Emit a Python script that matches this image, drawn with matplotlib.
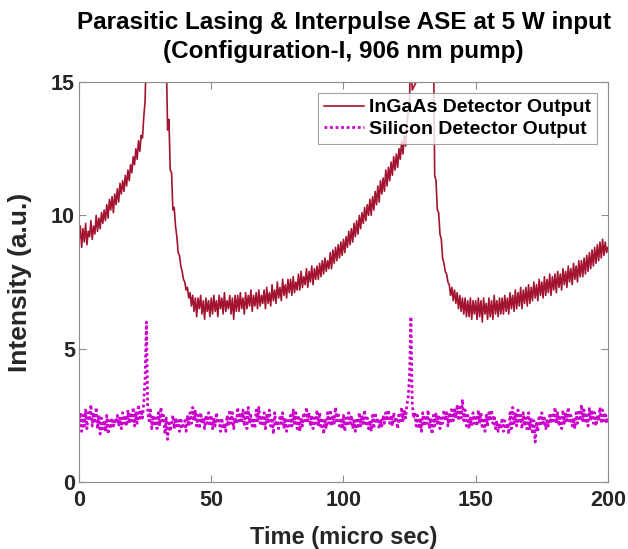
import numpy as np
import matplotlib.pyplot as plt

ingaas = [
    9.0, 9.6, 8.8, 9.5, 9.0, 9.7, 8.9, 9.4, 9.2, 9.8, 9.1, 9.6, 9.3, 10.0, 9.4, 9.9, 9.5, 10.1, 9.7, 10.2,
    9.8, 10.4, 9.9, 10.6, 10.2, 10.7, 10.1, 10.8, 10.4, 11.0, 10.5, 11.2, 10.8, 11.3, 10.9, 11.5, 11.1, 11.7, 11.3, 11.9,
    11.6, 12.2, 11.9, 12.5, 12.1, 12.8, 12.4, 13.0, 12.9, 13.7, 14.3, 16.5, 19.0, 21.0, 22.0, 22.5, 23.0, 23.0, 22.8, 22.5,
    22.0, 21.5, 21.0, 20.0, 19.0, 17.5, 16.0, 13.2, 13.6, 11.7, 11.6, 10.2, 10.3, 9.6, 9.2, 8.6, 8.5, 8.1, 7.9, 7.6,
    7.5, 7.2, 7.3, 6.9, 7.1, 6.6, 7.0, 6.4, 6.9, 6.2, 6.9, 6.5, 7.0, 6.3, 6.8, 6.1, 6.9, 6.4, 6.8, 6.2,
    6.9, 6.3, 7.0, 6.4, 6.8, 6.2, 7.0, 6.5, 6.9, 6.3, 7.1, 6.4, 6.8, 6.5, 7.0, 6.3, 6.9, 6.1, 7.0, 6.4,
    7.0, 6.4, 7.1, 6.5, 6.9, 6.3, 7.1, 6.5, 7.0, 6.6, 7.2, 6.4, 7.0, 6.6, 7.1, 6.5, 7.2, 6.6, 7.0, 6.7,
    7.2, 6.5, 7.3, 6.7, 7.1, 6.6, 7.4, 6.8, 7.2, 6.7, 7.5, 6.9, 7.3, 6.8, 7.6, 7.0, 7.4, 6.9, 7.6, 7.1,
    7.6, 7.0, 7.7, 7.1, 7.5, 7.2, 7.8, 7.2, 7.9, 7.3, 7.7, 7.4, 8.0, 7.3, 7.9, 7.5, 8.1, 7.4, 8.0, 7.6,
    8.1, 7.6, 8.2, 7.7, 8.3, 7.8, 8.4, 7.9, 8.3, 8.0, 8.6, 8.0, 8.7, 8.2, 8.8, 8.3, 8.9, 8.4, 9.0, 8.5,
    9.1, 8.6, 9.2, 8.8, 9.4, 8.9, 9.5, 9.0, 9.7, 9.2, 9.8, 9.3, 10.0, 9.5, 10.1, 9.7, 10.3, 9.8, 10.4, 10.0,
    10.6, 10.0, 10.7, 10.2, 10.9, 10.4, 11.1, 10.5, 11.3, 10.8, 11.4, 10.9, 11.7, 11.1, 11.8, 11.3, 12.0, 11.5, 12.2, 11.7,
    12.3, 11.8, 12.5, 12.1, 12.8, 12.3, 13.0, 12.6, 13.4, 13.9, 14.3, 17.0, 14.7, 14.8, 14.9, 15.0, 15.1, 18.0, 21.0, 22.5,
    23.0, 23.0, 22.5, 22.0, 21.0, 20.0, 19.0, 18.0, 17.0, 11.5, 11.3, 10.2, 10.1, 9.3, 9.1, 8.4, 8.2, 7.9, 7.8, 7.5,
    7.4, 7.0, 7.3, 6.8, 7.2, 6.7, 7.1, 6.5, 7.0, 6.4, 6.9, 6.3, 6.9, 6.2, 6.8, 6.2, 6.9, 6.1, 6.8, 6.3,
    6.8, 6.1, 6.9, 6.2, 6.8, 6.0, 6.9, 6.3, 6.7, 6.1, 6.9, 6.2, 6.8, 6.1, 7.0, 6.3, 6.8, 6.2, 6.9, 6.3,
    6.9, 6.3, 7.0, 6.4, 6.9, 6.3, 7.1, 6.5, 7.0, 6.4, 7.2, 6.5, 7.1, 6.6, 7.3, 6.5, 7.2, 6.7, 7.3, 6.6,
    7.4, 6.7, 7.3, 6.8, 7.5, 6.9, 7.4, 6.8, 7.6, 7.0, 7.5, 6.9, 7.7, 7.0, 7.6, 7.1, 7.8, 7.0, 7.7, 7.2,
    7.8, 7.1, 7.9, 7.3, 7.8, 7.2, 8.0, 7.4, 7.9, 7.3, 8.1, 7.5, 8.0, 7.4, 8.2, 7.6, 8.1, 7.5, 8.3, 7.7,
    8.3, 7.7, 8.4, 7.8, 8.5, 7.9, 8.6, 8.0, 8.7, 8.1, 8.8, 8.2, 8.9, 8.3, 9.0, 8.4, 9.1, 8.5, 9.0, 8.6,
    8.8,
]

# Silicon detector trace, same sampling
silicon = [
    2.2, 2.6, 1.9, 2.5, 2.1, 2.7, 2.0, 2.6, 2.3, 2.9, 2.1, 2.6, 2.2, 2.8, 2.0, 2.5, 1.8, 2.4, 2.0, 2.3,
    1.9, 2.5, 1.8, 2.3, 2.0, 2.4, 2.1, 2.3, 2.2, 2.5, 2.1, 2.4, 2.0, 2.6, 2.2, 2.5, 2.1, 2.7, 2.2, 2.6,
    2.3, 2.8, 2.1, 2.6, 2.2, 2.9, 2.3, 2.7, 2.4, 3.0, 3.9, 6.0, 2.6, 2.3, 2.7, 2.0, 2.5, 2.1, 2.4, 2.0,
    2.6, 2.1, 2.8, 2.2, 2.5, 1.8, 2.4, 1.6, 2.3, 1.9, 2.2, 2.5, 2.0, 2.4, 2.1, 2.3, 1.9, 2.4, 2.0, 2.2,
    2.3, 1.9, 2.5, 2.1, 2.6, 2.2, 2.8, 2.3, 2.7, 2.1, 2.5, 2.0, 2.6, 2.2, 2.4, 2.0, 2.5, 2.2, 2.6, 2.1,
    2.5, 2.0, 2.4, 2.1, 2.6, 2.2, 2.3, 1.9, 2.4, 2.0, 2.2, 1.9, 2.5, 2.1, 2.7, 2.2, 2.6, 2.0, 2.4, 2.2,
    2.8, 2.2, 2.6, 2.3, 2.7, 2.1, 2.6, 2.0, 2.8, 2.2, 2.5, 2.1, 2.4, 2.0, 2.7, 2.3, 2.8, 2.2, 2.5, 2.1,
    2.6, 2.0, 2.5, 2.2, 2.7, 2.1, 2.4, 1.8, 2.6, 2.1, 2.3, 2.0, 2.5, 2.2, 2.6, 2.0, 2.4, 1.9, 2.3, 2.1,
    2.5, 2.1, 2.7, 2.2, 2.6, 2.0, 2.5, 1.9, 2.4, 2.1, 2.6, 2.2, 2.8, 2.3, 2.6, 2.1, 2.5, 2.0, 2.4, 2.2,
    2.7, 2.1, 2.6, 2.0, 2.4, 1.8, 2.3, 2.0, 2.6, 2.2, 2.7, 2.1, 2.5, 2.2, 2.8, 2.3, 2.6, 2.1, 2.4, 2.0,
    2.5, 1.9, 2.4, 2.1, 2.6, 2.2, 2.5, 2.0, 2.3, 1.9, 2.4, 2.0, 2.6, 2.1, 2.5, 2.2, 2.7, 2.1, 2.4, 2.0,
    2.3, 1.9, 2.5, 2.0, 2.6, 2.2, 2.4, 2.0, 2.3, 2.1, 2.5, 2.2, 2.6, 2.3, 2.7, 2.2, 2.5, 2.1, 2.6, 2.3,
    2.4, 2.0, 2.6, 2.2, 2.8, 2.3, 2.7, 2.4, 2.9, 3.2, 4.0, 6.2, 3.0, 2.4, 2.6, 2.1, 2.5, 2.0, 2.4, 1.9,
    2.6, 2.1, 2.5, 2.2, 2.7, 2.0, 2.4, 1.8, 2.5, 2.1, 2.6, 2.2, 2.5, 2.0, 2.4, 2.2, 2.7, 2.3, 2.6, 2.1,
    2.6, 2.2, 2.8, 2.3, 2.7, 2.4, 2.9, 2.3, 2.8, 2.4, 3.1, 2.3, 2.7, 2.1, 2.5, 2.0, 2.4, 2.1, 2.6, 2.2,
    2.5, 2.1, 2.7, 2.2, 2.6, 2.0, 2.4, 1.9, 2.5, 2.1, 2.6, 2.3, 2.7, 2.2, 2.5, 2.0, 2.3, 1.9, 2.2, 2.0,
    2.4, 1.9, 2.3, 2.0, 2.2, 1.8, 2.6, 2.0, 2.8, 2.2, 2.6, 2.1, 2.7, 2.2, 2.5, 2.0, 2.6, 2.1, 2.4, 1.9,
    2.6, 2.0, 2.4, 1.8, 2.3, 1.5, 2.2, 1.9, 2.5, 2.1, 2.6, 2.2, 2.4, 2.0, 2.3, 2.1, 2.5, 2.2, 2.6, 2.3,
    2.8, 2.2, 2.6, 2.1, 2.5, 2.0, 2.7, 2.2, 2.6, 2.3, 2.8, 2.2, 2.5, 2.1, 2.4, 2.0, 2.6, 2.2, 2.7, 2.3,
    2.9, 2.3, 2.7, 2.2, 2.6, 2.1, 2.8, 2.3, 2.7, 2.2, 2.6, 2.1, 2.5, 2.3, 2.8, 2.2, 2.7, 2.3, 2.6, 2.2,
    2.5,
]

t_start, t_end = 0, 200
time = np.linspace(t_start, t_end, len(ingaas))

plt.rcParams['font.family'] = ['Liberation Sans', 'DejaVu Sans']
plt.rcParams['font.weight'] = 'bold'

fig = plt.figure(figsize=(6.28, 5.49), dpi=100)
ax = fig.add_axes([0.1258, 0.122, 0.8422, 0.7286])

ax.plot(time, ingaas, color='#A2142F', lw=1.2, label='InGaAs Detector Output')
ax.plot(time, silicon, color='#CC00CC', lw=2.0, ls=(0, (1, 1)), label='Silicon Detector Output')

ax.set_xlim(0, 200)
ax.set_ylim(0, 15)
ax.set_xticks([0, 50, 100, 150, 200])
ax.set_yticks([0, 5, 10, 15])

for s in ax.spines.values():
    s.set_color('#8c8c8c')
    s.set_linewidth(0.8)
ax.tick_params(direction='in', length=5, width=0.8, color='#8c8c8c',
               top=True, right=True, labelsize=15.5, labelcolor='#262626', pad=3)
ax.tick_params(axis='x', pad=6)
for lab in ax.get_xticklabels() + ax.get_yticklabels():
    lab.set_fontweight('bold')

ax.set_xlabel('Time (micro sec)', fontsize=17, fontweight='bold', color='#262626')
ax.set_ylabel('Intensity (a.u.)', fontsize=19, fontweight='bold', color='#262626')
ax.xaxis.label.set_va('center')
ax.yaxis.label.set_va('center')
ax.xaxis.set_label_coords(0.5, -0.1375)
ax.yaxis.set_label_coords(-0.1115, 0.5)

# title centred over the axes
fig.text(0.547, 1 - 37 / 549,
         'Parasitic Lasing & Interpulse ASE at 5 W input\n(Configuration-I, 906 nm pump)',
         ha='center', va='center', fontsize=17.5, fontweight='bold', color='black',
         linespacing=1.35, multialignment='center')

leg = ax.legend(loc='upper right', bbox_to_anchor=(0.979, 0.9725), borderaxespad=0,
                fontsize=14, frameon=True, fancybox=False, handlelength=2.05,
                handletextpad=0.26, borderpad=0.3, labelspacing=0.2)
leg.get_frame().set_edgecolor('#8c8c8c')
leg.get_frame().set_linewidth(0.8)
for txt in leg.get_texts():
    txt.set_fontweight('bold')

fig.savefig('out.png', dpi=100)
